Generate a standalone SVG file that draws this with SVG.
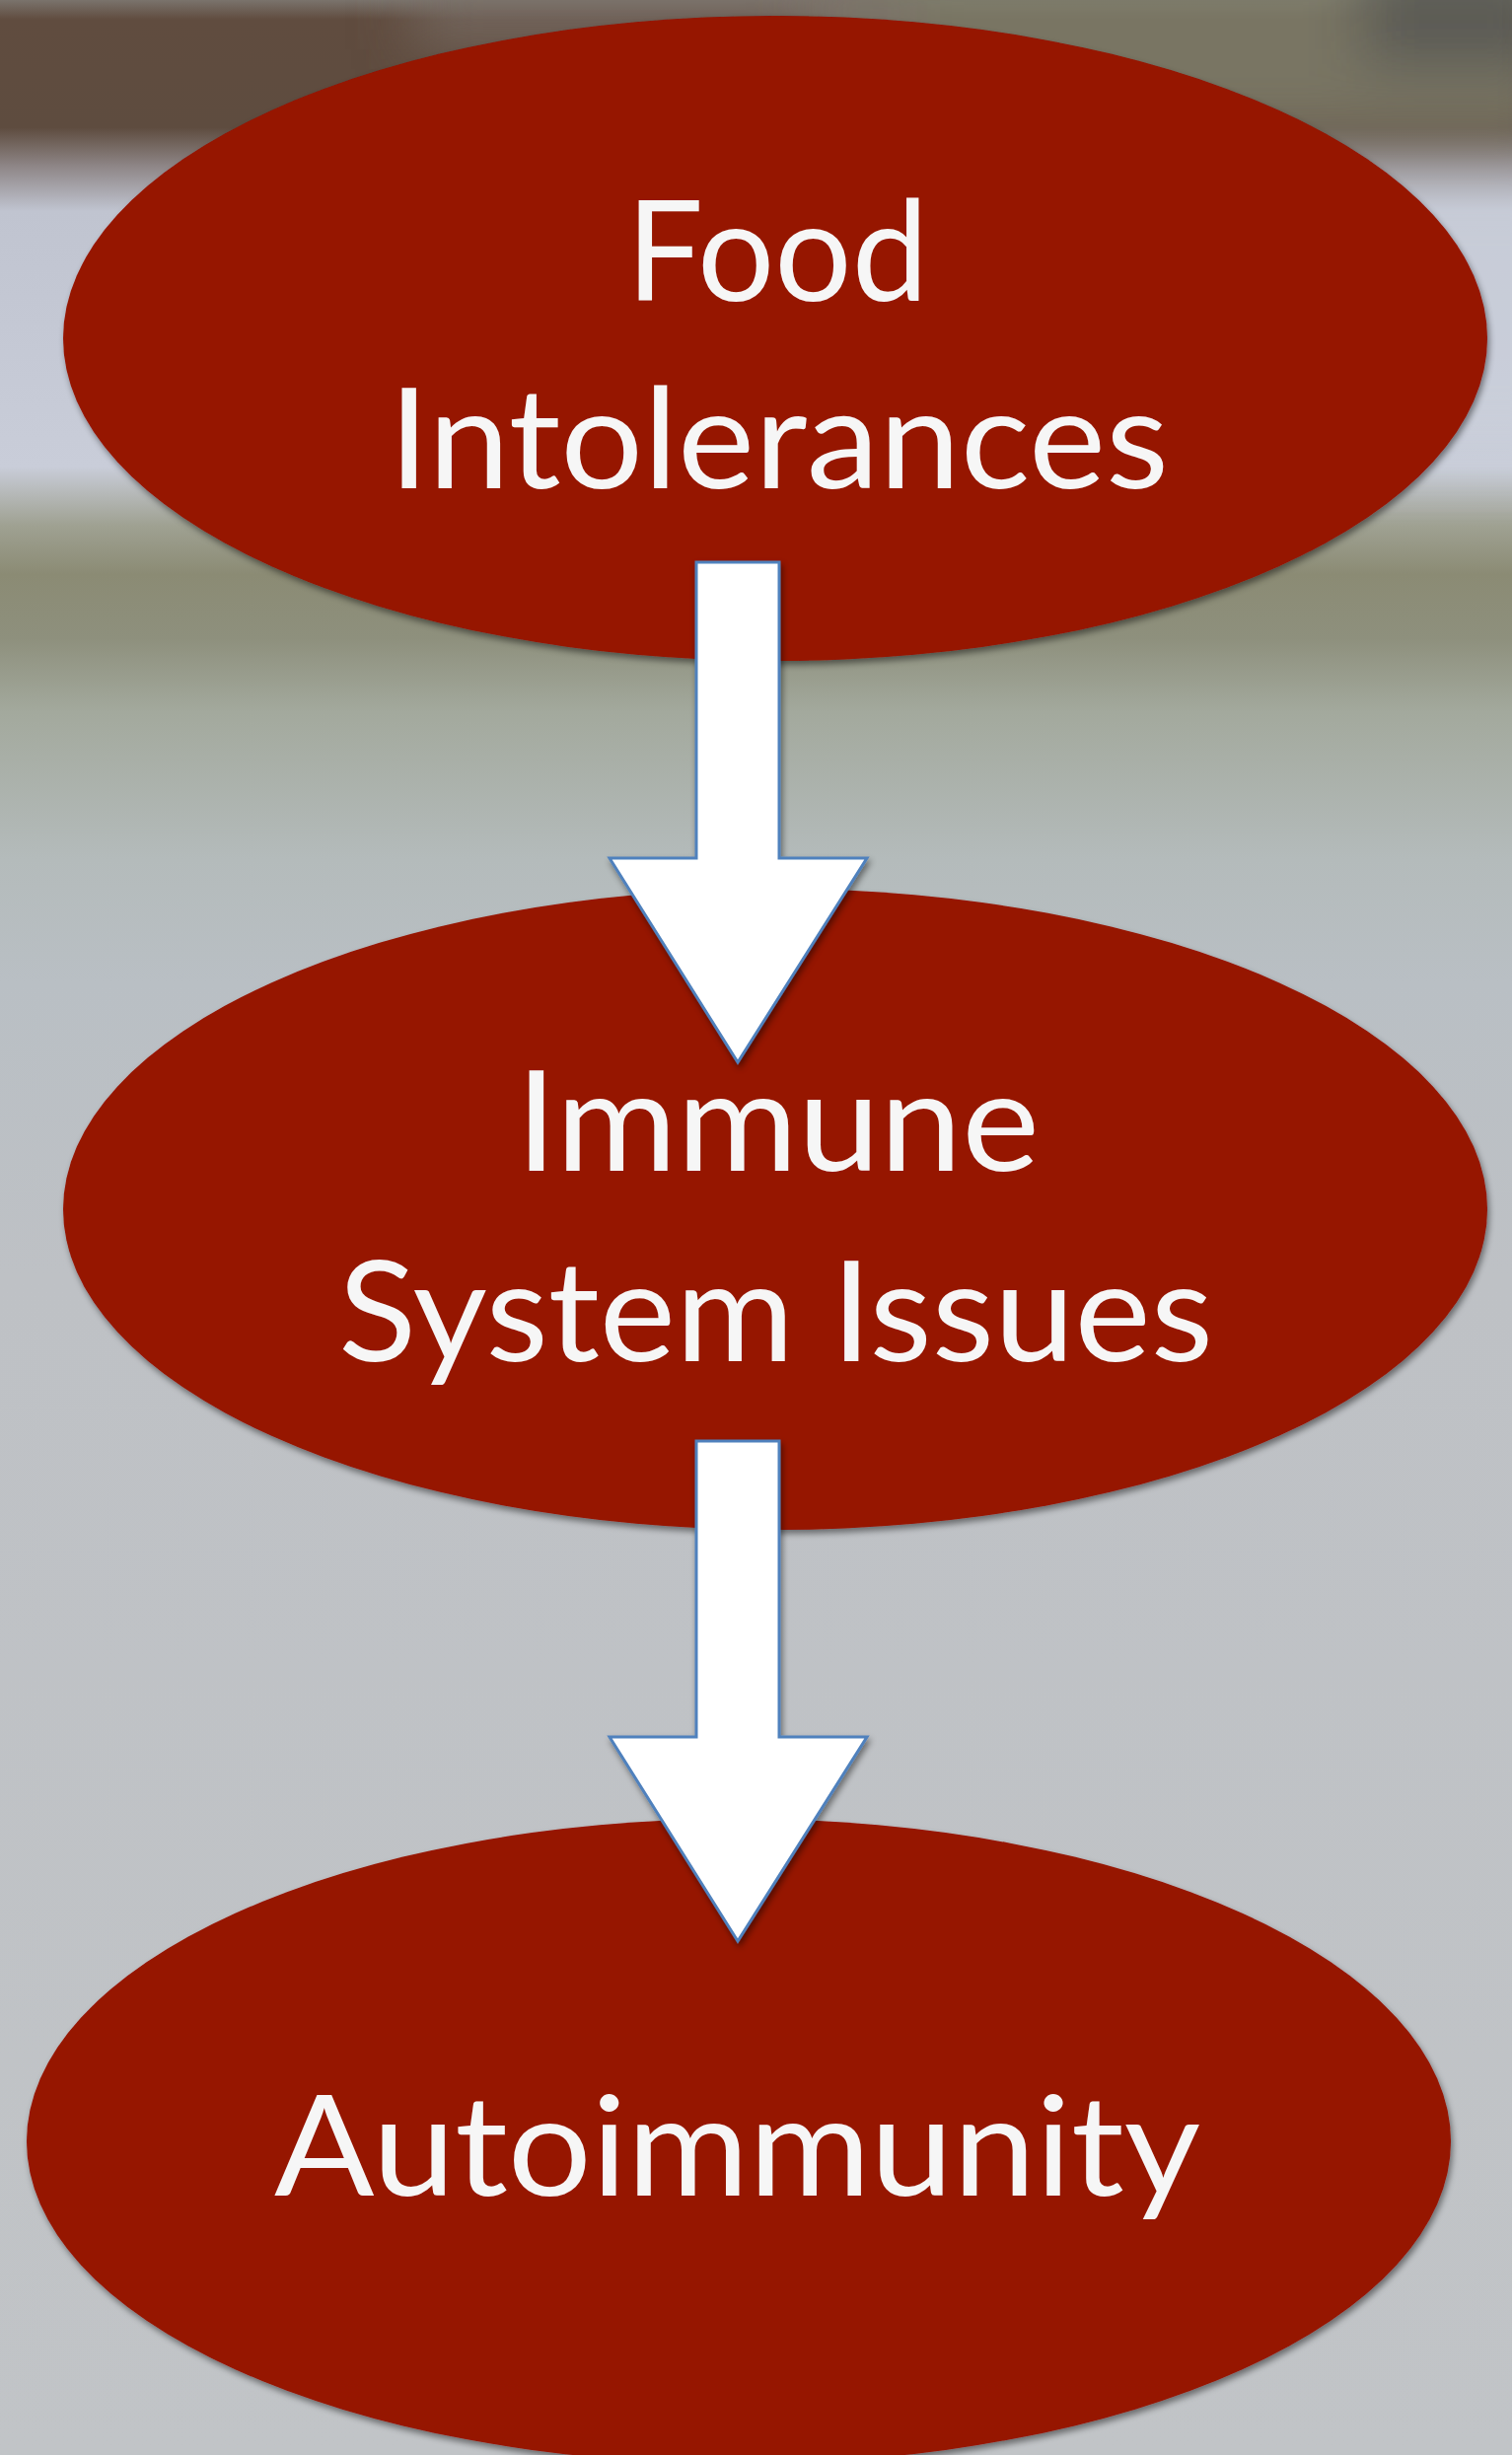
<svg xmlns="http://www.w3.org/2000/svg" width="1533" height="2489" viewBox="0 0 1533 2489">
<defs>
<linearGradient id="bg" x1="0" y1="0" x2="0" y2="2489" gradientUnits="userSpaceOnUse">
<stop offset="0" stop-color="#7a736c"/>
<stop offset="0.008" stop-color="#604c3f"/>
<stop offset="0.052" stop-color="#5e4c3f"/>
<stop offset="0.068" stop-color="#8f8788"/>
<stop offset="0.086" stop-color="#c0c4d0"/>
<stop offset="0.19" stop-color="#c9cdd9"/>
<stop offset="0.214" stop-color="#9fa192"/>
<stop offset="0.234" stop-color="#8b8b74"/>
<stop offset="0.26" stop-color="#8e907d"/>
<stop offset="0.29" stop-color="#a3a99d"/>
<stop offset="0.35" stop-color="#b4bbbb"/>
<stop offset="0.4" stop-color="#b9bfc4"/>
<stop offset="0.52" stop-color="#bec1c5"/>
<stop offset="1" stop-color="#c1c4c7"/>
</linearGradient>
<filter id="blur" x="-20%" y="-50%" width="140%" height="200%">
<feGaussianBlur stdDeviation="30"/>
</filter>
<filter id="shadow" x="-5%" y="-5%" width="110%" height="115%">
<feDropShadow dx="2" dy="4" stdDeviation="3" flood-color="#000" flood-opacity="0.45"/>
</filter>
<style>
.node { fill: #961300; filter: url(#shadow); }
.label { font-family: Lato, "Open Sans", "Liberation Sans", sans-serif; font-size: 142px; fill: #f6f6f6; text-anchor: middle; }
.arrow { fill: #ffffff; stroke: #4f81bd; stroke-width: 3; stroke-linejoin: miter; filter: url(#shadow); }
</style>
</defs>
<rect x="0" y="0" width="1533" height="2489" fill="url(#bg)"/>
<g filter="url(#blur)">
<rect x="820" y="-60" width="760" height="200" fill="#7e7c6a" opacity="0.85"/>
<rect x="1380" y="-40" width="200" height="110" fill="#555553" opacity="0.8"/>
<rect x="420" y="-40" width="500" height="90" fill="#7a716a" opacity="0.7"/>
<rect x="1000" y="180" width="600" height="280" fill="#cbd0dc" opacity="0.6"/>
</g>
<g id="node-food">
<ellipse class="node" cx="786" cy="343" rx="722" ry="327"/>
<text class="label" x="788" y="305" textLength="306" lengthAdjust="spacingAndGlyphs">Food</text>
<text class="label" x="789.5" y="495" textLength="791" lengthAdjust="spacingAndGlyphs">Intolerances</text>
</g>
<g id="node-immune">
<ellipse class="node" cx="786" cy="1226" rx="722" ry="325"/>
<text class="label" x="788.5" y="1187" textLength="531" lengthAdjust="spacingAndGlyphs">Immune</text>
<text class="label" x="786.5" y="1380" textLength="887" lengthAdjust="spacingAndGlyphs">System Issues</text>
</g>
<g id="node-autoimmunity">
<ellipse class="node" cx="749" cy="2171" rx="722" ry="327"/>
<text class="label" x="747.5" y="2226" textLength="939" lengthAdjust="spacingAndGlyphs">Autoimmunity</text>
</g>
<g id="connectors">
<polygon class="arrow" points="706,570 790,570 790,870 879,870 748,1077 618,870 706,870"/>
<polygon class="arrow" points="706,1461 790,1461 790,1761 879,1761 748,1968 618,1761 706,1761"/>
</g>
</svg>
